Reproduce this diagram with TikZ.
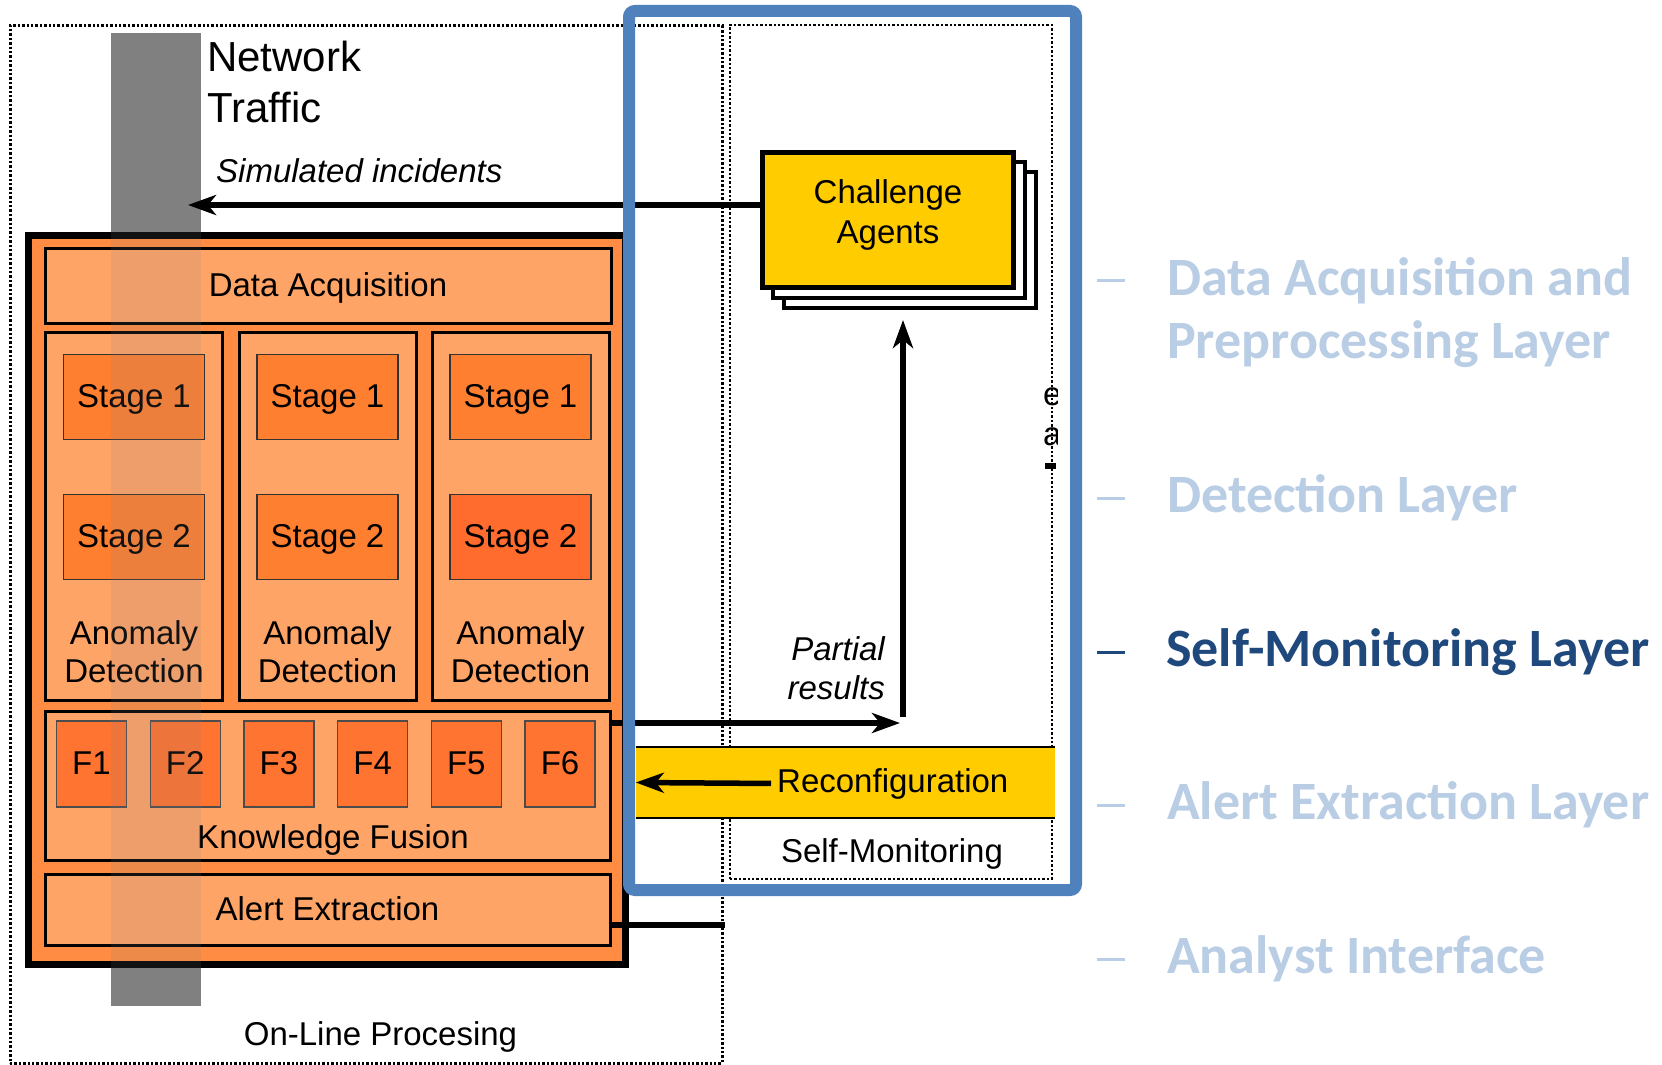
\documentclass[tikz,border=0pt]{standalone}
\usepackage{fontspec}
\setmainfont{Liberation Sans}
\newfontfamily\layerfont{Carlito}
\usetikzlibrary{arrows.meta}

\definecolor{orangeout}{HTML}{FF8C42}
\definecolor{orangein}{HTML}{FFA467}
\definecolor{stagefill}{HTML}{FF7F31}
\definecolor{stagered}{HTML}{FF6C2E}
\definecolor{fusefill}{HTML}{FF7430}
\definecolor{agentyel}{HTML}{FFCC00}
\definecolor{frameblue}{HTML}{4F81BD}
\definecolor{trafficgray}{HTML}{808080}
\definecolor{layerdim}{HTML}{B9CDE5}
\definecolor{layeron}{HTML}{1F497D}

\tikzset{
  txtfont/.style={font=\fontsize{33}{38}\selectfont, inner sep=0pt},
  itfont/.style={font=\fontsize{33}{39}\selectfont\itshape, inner sep=0pt},
  oneline/.style={txtfont, text height=21pt, text depth=0pt},
  panel/.style={draw=black, line width=3pt, fill=orangein, inner sep=0pt},
  stagebox/.style={oneline, draw=black!80, line width=1.6pt, inner sep=0pt,
    minimum width=141pt, minimum height=85pt},
  fbox/.style={oneline, draw=black!70, line width=1.3pt, fill=fusefill, inner sep=0pt,
    minimum width=70pt, minimum height=86pt},
  agentbox/.style={draw=black, line width=5pt, fill=agentyel, inner sep=0pt,
    minimum width=251pt, minimum height=135pt},
  agentshadow/.style={draw=black, line width=4pt, fill=white, inner sep=0pt,
    minimum width=252pt, minimum height=136pt},
  arr/.style={line width=5.5pt, -{Stealth[length=28pt,width=20pt,inset=8pt]}},
  dotframe/.style={draw=black, line width=3pt, dash pattern=on 2.4pt off 2pt, inner sep=0pt},
  layerlbl/.style={font=\layerfont\bfseries\fontsize{54}{64}\selectfont,
    anchor=base west, inner sep=0pt, text=layerdim},
  layerdash/.style={line width=3pt, draw=layerdim},
}

\begin{document}
\begin{tikzpicture}[x=1pt,y=-1pt]
\useasboundingbox (0,0) rectangle (1662,1065);
\fill[white] (0,0) rectangle (1662,1065);

% dotted frames: on-line processing and self-monitoring
\node[dotframe, minimum width=712pt, minimum height=1037pt] (online) at (366,544.5) {};
\node[dotframe, line width=2.4pt, minimum width=322pt, minimum height=854pt] (selfmon) at (891,452) {};

% network traffic bar
\node[fill=trafficgray, inner sep=0pt, minimum width=90pt, minimum height=973pt] (traffic) at (156,519.5) {};

% processing stack
\node[draw=black, line width=7pt, fill=orangeout, inner sep=0pt,
      minimum width=597pt, minimum height=729pt] (proc) at (327,600) {};
\node[panel, oneline, minimum width=566pt, minimum height=75pt] (acq) at (328,285.5) {Data Acquisition};

\foreach \i/\cx/\sfill in {1/134/stagefill, 2/327.5/stagefill, 3/520.5/stagered} {
  \node[panel, minimum width=177pt, minimum height=368pt] (col\i) at (\cx,516) {};
  \node[stagebox, fill=stagefill] (sa\i) at (\cx,397) {Stage 1};
  \node[stagebox, fill=\sfill] (sb\i) at (\cx,537) {Stage 2};
  \node[txtfont, align=center] (ad\i) at (\cx,652) {Anomaly\\Detection};
}

\node[panel, minimum width=565pt, minimum height=149pt] (kf) at (327.5,785.5) {};
\foreach \i in {1,...,6}
  \node[fbox] (f\i) at ({91.5+93.7*(\i-1)},764) {F\i};
\node[txtfont, anchor=base] (kflbl) at (333,848) {Knowledge Fusion};

\node[panel, oneline, minimum width=565pt, minimum height=71pt] (alert) at (327.5,909.5) {Alert Extraction};

% traffic bar seen through the processing stack
\fill[trafficgray, opacity=0.14] (111,232) rectangle (201,969);

\node[font=\fontsize{42}{51}\selectfont, align=left, anchor=west, inner sep=0pt] (nettxt) at (207,82) {Network\\Traffic};
\node[itfont, anchor=base west] (simlbl) at (216,182) {Simulated incidents};

% challenge agents
\node[agentshadow] (chal2) at (909.5,240) {};
\node[agentshadow] (chal1) at (898.5,230) {};
\node[agentbox] (chal) at (887.5,219.5) {};
\node[font=\fontsize{33}{40}\selectfont, align=center, inner sep=0pt] (challbl) at (888,215) {Challenge\\Agents};

% reconfiguration band
\node[fill=agentyel, inner sep=0pt, minimum width=419pt, minimum height=71pt] (reconf) at (845.5,782.5) {};
\draw[line width=2pt] (reconf.north west) -- (reconf.north east)
                      (reconf.south west) -- (reconf.south east);
\node[txtfont, anchor=base west] (reconflbl) at (777,792) {Reconfiguration};

\node[txtfont, anchor=base] (smlbl) at (892,862) {Self-Monitoring};
\node[itfont, align=right, anchor=east] (partlbl) at (885,668.5) {Partial\\results};
\node[txtfont, anchor=base] (onlinelbl) at (380.5,1045) {On-Line Procesing};

% connectors
\coordinate (simtip) at (188,205);
\coordinate (prtip) at (900,723);
\coordinate (upfoot) at (903,717);
\coordinate (uptip) at (903,320);
\coordinate (alertout) at (725,925);
\draw[arr] ([yshift=14.5pt]chal.west) -- (simtip);
\draw[arr] ([yshift=62.5pt]kf.east) -- (prtip);
\draw[arr] (upfoot) -- (uptip);
\draw[line width=5.5pt] ([xshift=-3pt,yshift=-15.5pt]alert.east) -- (alertout);

% focus frame
\node[draw=frameblue, line width=12pt, rounded corners=6pt, inner sep=0pt,
      minimum width=447pt, minimum height=879pt] (focus) at (852.5,450.5) {};
\draw[arr] ([xshift=-6pt]reconflbl.west) -- (reconf.west);

% clipped glyphs at the self-monitoring edge
\begin{scope}
  \clip (1030,370) rectangle (1057,480);
  \node[txtfont, anchor=base west] (frage) at (1043,405) {e};
  \node[txtfont, anchor=base west] (fraga) at (1043,445) {a};
\end{scope}
\fill (1045,463) rectangle (1056,469);

% layer list
\draw[layerdash] (1097,280) -- (1125,280);
\draw[layerdash] (1097,498) -- (1125,498);
\draw[layerdash, draw=layeron] (1097,652) -- (1125,652);
\draw[layerdash] (1097,805) -- (1125,805);
\draw[layerdash] (1097,959) -- (1125,959);
\node[layerlbl] (lyacq) at (1167,295) {Data Acquisition and};
\node[layerlbl] (lyacqb) at (1167,358) {Preprocessing Layer};
\node[layerlbl] (lydet) at (1167,512) {Detection Layer};
\node[layerlbl, text=layeron] (lysm) at (1166,666) {Self-Monitoring Layer};
\node[layerlbl] (lyalert) at (1167,819) {Alert Extraction Layer};
\node[layerlbl] (lyana) at (1167,973) {Analyst Interface};
\end{tikzpicture}
\end{document}
